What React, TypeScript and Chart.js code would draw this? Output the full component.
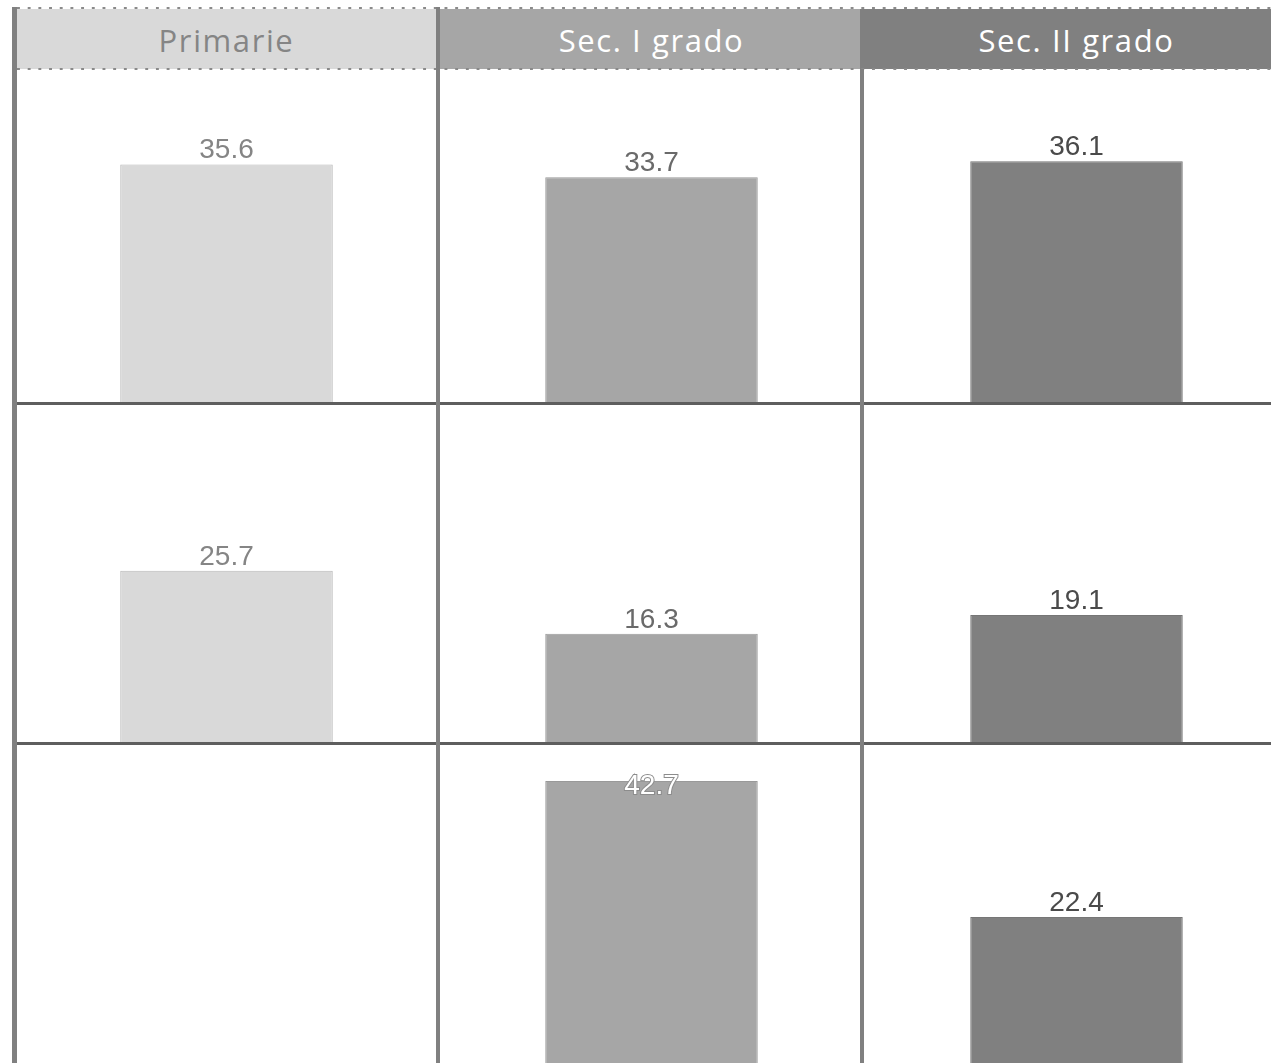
import React, { useEffect, useRef } from "react";
import { Chart, registerables } from "chart.js";

Chart.register(...registerables);

// ---- data ----
const categories = ["Primarie", "Sec. I grado", "Sec. II grado"];
const row1Values: (number | null)[] = [35.6, 33.7, 36.1];
const row2Values: (number | null)[] = [25.7, 16.3, 19.1];
const row3Values: (number | null)[] = [null, 42.7, 22.4];
const rows = [row1Values, row2Values, row3Values];

// ---- styles ----
const fillColors = ["#d9d9d9", "#a6a6a6", "#808080"];
const borderColors = ["#b8b8b8", "#999999", "#767676"];
const headerText = ["#858585", "#ffffff", "#ffffff"];
const labelColors = ["#858585", "#6a6a6a", "#4a4a4a"];

const PX_PER_UNIT = 6.7;
const COL_LEFT = 14;
const COL_STEP = 425;
const ROW_BOXES = [
  { top: 70, bottom: 403 },
  { top: 406, bottom: 743 },
  { top: 746, bottom: 1067 },
];

const labelPlugin = {
  id: "barLabels",
  afterDatasetsDraw(chart: any) {
    const ds = chart.data.datasets[0];
    const meta = chart.getDatasetMeta(0);
    const ctx = chart.ctx;
    meta.data.forEach((el: any, i: number) => {
      const v = ds.data[i];
      if (v === null || v === undefined) return;
      const text = v.toFixed(1);
      ctx.save();
      ctx.font = "28px 'Liberation Sans', Arial, sans-serif";
      ctx.textAlign = "center";
      ctx.textBaseline = "alphabetic";
      const outsideBaseline = el.y - 6;
      const fits = outsideBaseline - 20 > chart.chartArea.top + 14;
      if (fits) {
        ctx.fillStyle = ds.labelColor;
        ctx.fillText(text, el.x, outsideBaseline);
      } else {
        ctx.lineWidth = 2;
        ctx.strokeStyle = "#8c8c8c";
        ctx.strokeText(text, el.x, el.y + 13);
        ctx.fillStyle = "#ffffff";
        ctx.fillText(text, el.x, el.y + 13);
      }
      ctx.restore();
    });
  },
};

function Panel({ col, row }: { col: number; row: number }) {
  const ref = useRef<HTMLCanvasElement>(null);
  const box = ROW_BOXES[row];
  const h = box.bottom - box.top;
  useEffect(() => {
    if (!ref.current) return;
    const value = rows[row][col];
    const chart = new Chart(ref.current, {
      type: "bar",
      data: {
        labels: [categories[col]],
        datasets: [
          {
            data: [value],
            backgroundColor: fillColors[col],
            borderColor: borderColors[col],
            borderWidth: 1,
            borderSkipped: false,
            barPercentage: 0.5,
            categoryPercentage: 1,
            labelColor: labelColors[col],
          } as any,
        ],
      },
      options: {
        animation: false,
        responsive: false,
        maintainAspectRatio: false,
        layout: { padding: 0 },
        plugins: { legend: { display: false }, tooltip: { enabled: false } },
        scales: {
          x: { display: false },
          y: { display: false, min: 0, max: h / PX_PER_UNIT },
        },
      },
      plugins: [labelPlugin],
    });
    return () => chart.destroy();
  }, [col, row, h]);
  return (
    <canvas
      ref={ref}
      width={COL_STEP}
      height={h}
      style={{
        position: "absolute",
        left: COL_LEFT + COL_STEP * col,
        top: box.top,
        width: COL_STEP,
        height: h,
      }}
    />
  );
}

const dotted = (color: string) => ({
  position: "absolute" as const,
  height: 2,
  backgroundImage: `linear-gradient(to right, ${color} 0 2.5px, transparent 2.5px)`,
  backgroundSize: "10.7px 2px",
  backgroundRepeat: "repeat-x",
});

export default function App() {
  const headers = [
    { left: 17, right: 437 },
    { left: 440, right: 860 },
    { left: 860, right: 1271 },
  ];
  return (
    <div
      style={{
        position: "absolute",
        left: 0,
        top: 0,
        width: 1271,
        height: 1063,
        overflow: "hidden",
        background: "#ffffff",
      }}
    >
      {/* headers */}
      {headers.map((hd, i) => (
        <div
          key={"h" + i}
          style={{
            position: "absolute",
            left: hd.left,
            top: 9,
            width: hd.right - hd.left,
            height: 60,
            background: fillColors[i],
          }}
        >
          <div
            style={{
              position: "absolute",
              left: COL_LEFT + COL_STEP * i + COL_STEP / 2 - hd.left - 200,
              width: 400,
              top: 0,
              height: 60,
              lineHeight: "62px",
              textAlign: "center",
              fontFamily: "'Open Sans', sans-serif",
              fontWeight: 400,
              fontSize: 31,
              letterSpacing: 1.6,
              color: headerText[i],
              whiteSpace: "nowrap",
            }}
          >
            {categories[i]}
          </div>
        </div>
      ))}
      <div style={{ ...dotted("#8a8a8a"), left: 17, width: 1254, top: 7 }} />
      <div style={{ ...dotted("#8a8a8a"), left: 17, width: 1254, top: 68 }} />

      {/* panels */}
      {[0, 1, 2].map((r) =>
        [0, 1, 2].map((c) => <Panel key={`${r}-${c}`} col={c} row={r} />)
      )}

      {/* horizontal lines */}
      <div style={{ position: "absolute", left: 14, width: 1257, top: 402, height: 3, background: "#5e5e5e" }} />
      <div style={{ position: "absolute", left: 14, width: 1257, top: 742, height: 3, background: "#5e5e5e" }} />

      {/* vertical lines */}
      <div style={{ position: "absolute", left: 12, width: 5, top: 7, height: 1056, background: "#808080" }} />
      <div style={{ position: "absolute", left: 436, width: 4, top: 7, height: 1056, background: "#808080" }} />
      <div style={{ position: "absolute", left: 860, width: 4, top: 69, height: 994, background: "#808080" }} />
    </div>
  );
}
